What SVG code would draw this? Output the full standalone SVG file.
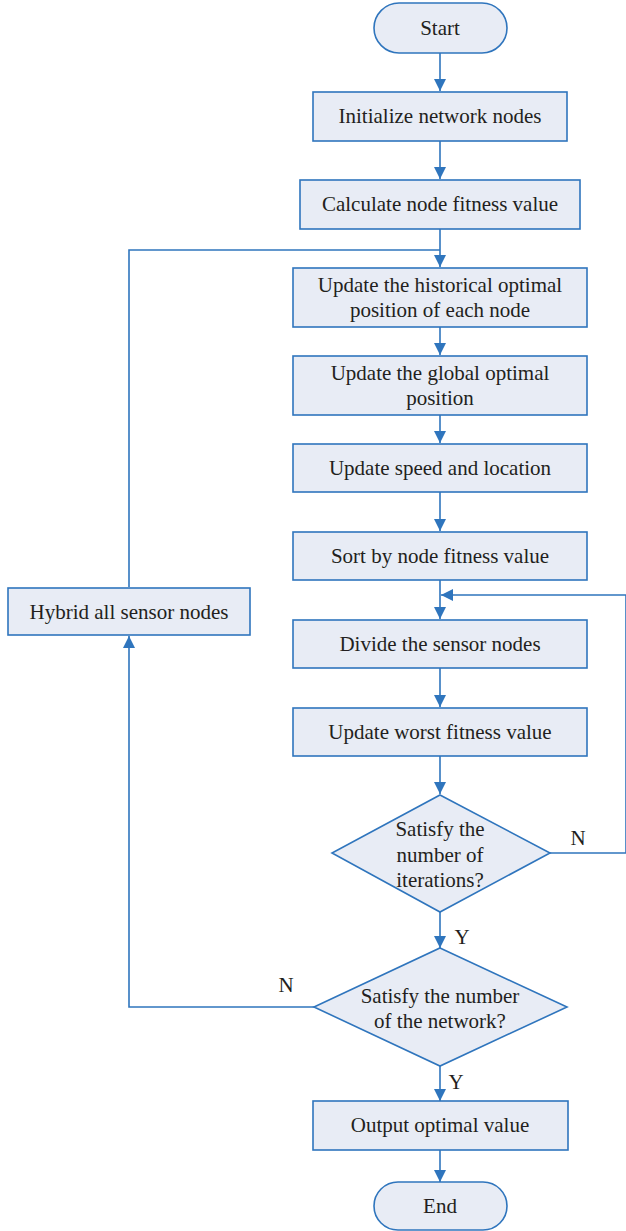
<svg xmlns="http://www.w3.org/2000/svg" width="626" height="1231" viewBox="0 0 626 1231">
<defs>
<marker id="ah" markerWidth="12" markerHeight="12" refX="10" refY="5" orient="auto" markerUnits="userSpaceOnUse" viewBox="0 0 10 10">
<path d="M0,0 L10,5 L0,10 Z" fill="#2f75bd"/>
</marker>
<style>
.b{fill:#e8ecf5;stroke:#2f75bd;stroke-width:1.6}
.t{font-family:"Liberation Serif","Times New Roman",serif;font-size:21px;fill:#231f20;text-anchor:middle}
.c{fill:none;stroke:#2f75bd;stroke-width:1.6}
</style>
</defs>
<rect width="626" height="1231" fill="#fff"/>
<g id="connectors">
<line class="c" x1="440" y1="53" x2="440" y2="91" marker-end="url(#ah)"/>
<line class="c" x1="440" y1="141" x2="440" y2="179" marker-end="url(#ah)"/>
<line class="c" x1="440" y1="229" x2="440" y2="267" marker-end="url(#ah)"/>
<polyline class="c" points="129,587 129,250 440,250"/>
<line class="c" x1="440" y1="327" x2="440" y2="355" marker-end="url(#ah)"/>
<line class="c" x1="440" y1="415" x2="440" y2="443" marker-end="url(#ah)"/>
<line class="c" x1="440" y1="492" x2="440" y2="531" marker-end="url(#ah)"/>
<line class="c" x1="440" y1="580" x2="440" y2="619" marker-end="url(#ah)"/>
<polyline class="c" points="550,853 626,853 626,595 441,595" marker-end="url(#ah)"/>
<line class="c" x1="440" y1="668" x2="440" y2="707" marker-end="url(#ah)"/>
<line class="c" x1="440" y1="756" x2="440" y2="794" marker-end="url(#ah)"/>
<line class="c" x1="440" y1="912" x2="440" y2="948" marker-end="url(#ah)"/>
<polyline class="c" points="314,1007 129,1007 129,636" marker-end="url(#ah)"/>
<line class="c" x1="440" y1="1066" x2="440" y2="1101" marker-end="url(#ah)"/>
<line class="c" x1="440" y1="1150" x2="440" y2="1182" marker-end="url(#ah)"/>
<text class="t" x="578" y="845">N</text>
<text class="t" x="462" y="944">Y</text>
<text class="t" x="286" y="992">N</text>
<text class="t" x="456" y="1089">Y</text>
</g>
<g id="start"><rect class="b" x="374" y="3" width="133" height="50" rx="25"/><text class="t" x="440" y="35">Start</text></g>
<g id="init"><rect class="b" x="313" y="92" width="254" height="49"/><text class="t" x="440" y="123">Initialize network nodes</text></g>
<g id="calc"><rect class="b" x="300" y="180" width="280" height="49"/><text class="t" x="440" y="211">Calculate node fitness value</text></g>
<g id="hist"><rect class="b" x="293" y="268" width="294" height="59"/><text class="t" x="440" y="292">Update the historical optimal</text><text class="t" x="440" y="317">position of each node</text></g>
<g id="global"><rect class="b" x="293" y="356" width="294" height="59"/><text class="t" x="440" y="380">Update the global optimal</text><text class="t" x="440" y="405">position</text></g>
<g id="speed"><rect class="b" x="293" y="444" width="294" height="48"/><text class="t" x="440" y="475">Update speed and location</text></g>
<g id="sort"><rect class="b" x="293" y="532" width="294" height="48"/><text class="t" x="440" y="563">Sort by node fitness value</text></g>
<g id="divide"><rect class="b" x="293" y="620" width="294" height="48"/><text class="t" x="440" y="651">Divide the sensor nodes</text></g>
<g id="worst"><rect class="b" x="293" y="708" width="294" height="48"/><text class="t" x="440" y="739">Update worst fitness value</text></g>
<g id="dec1"><polygon class="b" points="440,795 550,853 440,912 332,853"/><text class="t" x="440" y="836">Satisfy the</text><text class="t" x="440" y="862">number of</text><text class="t" x="440" y="887">iterations?</text></g>
<g id="dec2"><polygon class="b" points="440,948 567,1007 440,1066 314,1007"/><text class="t" x="440" y="1003">Satisfy the number</text><text class="t" x="440" y="1028">of the network?</text></g>
<g id="hybrid"><rect class="b" x="8" y="588" width="242" height="47"/><text class="t" x="129" y="619">Hybrid all sensor nodes</text></g>
<g id="output"><rect class="b" x="313" y="1101" width="255" height="49"/><text class="t" x="440" y="1132">Output optimal value</text></g>
<g id="end"><rect class="b" x="374" y="1182" width="133" height="48" rx="24"/><text class="t" x="440" y="1213">End</text></g>
</svg>
